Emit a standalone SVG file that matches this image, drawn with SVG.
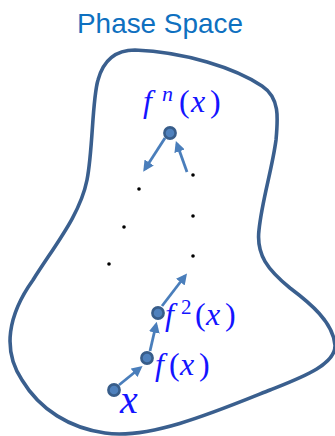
<svg xmlns="http://www.w3.org/2000/svg" width="335" height="436" viewBox="0 0 335 436">
  <style>
    .title { font-family: "Liberation Sans", Arial, sans-serif; font-size: 28px; fill: #0E70C0; }
    .math { font-family: "Liberation Serif", "Times New Roman", serif; fill: #1414FF; }
    .it { font-style: italic; }
    .node { fill: #4F81BD; stroke: #385D8A; stroke-width: 2.6; }
    .edge { stroke: #4A7EBB; stroke-width: 2.8; fill: none; marker-end: url(#arrow); }
    .dot { fill: #000; }
    .boundary { fill: none; stroke: #3A5F8E; stroke-width: 3.6; stroke-linejoin: round; }
  </style>
  <defs>
    <marker id="arrow" markerUnits="userSpaceOnUse" viewBox="0 0 10 10" refX="7" refY="5" markerWidth="11" markerHeight="11" orient="auto">
      <path d="M0,0 L10,5 L0,10 Z" fill="#4A7EBB"/>
    </marker>
  </defs>

  <text class="title" x="77" y="33" textLength="166" lengthAdjust="spacingAndGlyphs">Phase Space</text>

  <g id="boundary">
    <path class="boundary" d="M135,50 C185,52 235,68 262,86 C280,98 278,118 276,140 C272,170 262,200 259,230 C256,255 268,270 290,288 C310,303 333,322 335,345 C336,365 300,378 270,390 C220,410 150,440 105,433 C70,428 40,410 22,380 C2,350 8,315 33,280 C55,245 80,215 87,180 C93,150 92,100 98,80 C104,58 118,50 135,50 Z"/>
  </g>

  <g id="connectors">
    <line class="edge" x1="119" y1="385" x2="140" y2="368"/>
    <line class="edge" x1="150" y1="351" x2="156" y2="325"/>
    <line class="edge" x1="162" y1="306" x2="185" y2="276"/>
    <line class="edge" x1="165" y1="138" x2="145" y2="169"/>
    <line class="edge" x1="187" y1="172" x2="177" y2="144"/>
  </g>

  <g id="dots">
    <circle class="dot" cx="193" cy="175" r="1.8"/>
    <circle class="dot" cx="139" cy="189" r="1.8"/>
    <circle class="dot" cx="193" cy="216" r="1.8"/>
    <circle class="dot" cx="124" cy="227" r="1.8"/>
    <circle class="dot" cx="193" cy="256" r="1.8"/>
    <circle class="dot" cx="109" cy="264" r="1.8"/>
  </g>

  <g id="node-x">
    <circle class="node" cx="114" cy="390" r="5.6"/>
    <text class="math it" x="120" y="413" font-size="40">x</text>
  </g>

  <g id="node-fx">
    <circle class="node" cx="147" cy="358" r="5.6"/>
    <text class="math" font-size="32" y="375"><tspan class="it" x="155">f</tspan><tspan x="169">(</tspan><tspan class="it" x="180">x</tspan><tspan x="199">)</tspan></text>
  </g>

  <g id="node-f2x">
    <circle class="node" cx="158" cy="313" r="5.6"/>
    <text class="math" font-size="32" y="325"><tspan class="it" x="165">f</tspan><tspan x="181" y="314" font-size="21">2</tspan><tspan x="195" y="325">(</tspan><tspan class="it" x="206" y="325">x</tspan><tspan x="225" y="325">)</tspan></text>
  </g>

  <g id="node-fnx">
    <circle class="node" cx="170" cy="133" r="5.6"/>
    <text class="math" font-size="32" y="112"><tspan class="it" x="143">f</tspan><tspan class="it" x="162" y="101" font-size="22">n</tspan><tspan x="179" y="112">(</tspan><tspan class="it" x="191" y="112">x</tspan><tspan x="210" y="112">)</tspan></text>
  </g>
</svg>
